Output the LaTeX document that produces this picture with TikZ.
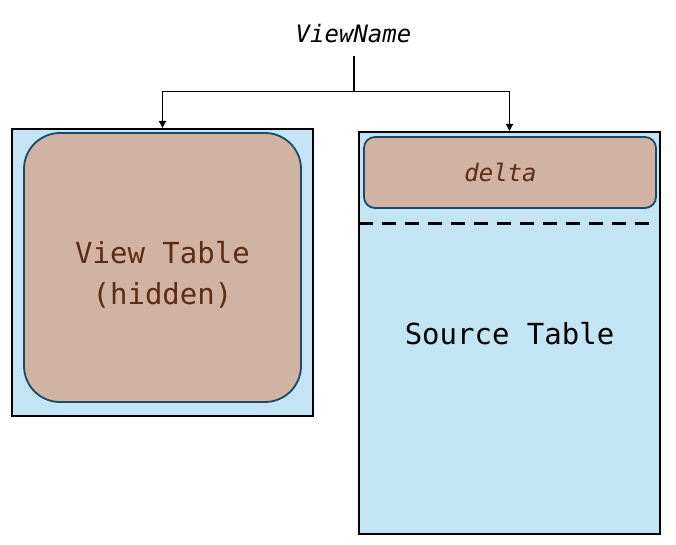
\documentclass[tikz,border=0pt]{standalone}
\usepackage{fontspec}
\setmonofont{DejaVu Sans Mono}
\usetikzlibrary{arrows.meta}
\definecolor{boxblue}{HTML}{C2E4F4}
\definecolor{boxbrown}{HTML}{D0B3A2}
\definecolor{edgeteal}{HTML}{1B4A63}
\definecolor{txtbrown}{HTML}{5C2C14}
\tikzset{
  outerbox/.style={draw=black, line width=2.1pt, fill=boxblue},
  innerbox/.style={draw=edgeteal, line width=1.8pt, fill=boxbrown},
  conn/.style={draw=black, line width=1.8pt, -{Triangle[width=7pt,length=7pt]}},
  mono/.style={font=\ttfamily\fontsize{29}{41}\selectfont, align=center},
  monoit/.style={font=\ttfamily\itshape\fontsize{24}{28}\selectfont}
}
\begin{document}
\begin{tikzpicture}[x=1pt,y=-1pt]
\useasboundingbox (0,0) rectangle (676,545);
% left
\node[outerbox, minimum width=301pt, minimum height=287pt, inner sep=0pt] (left) at (162.5,272.5) {};
\node[innerbox, rounded corners=36pt, minimum width=277pt, minimum height=269pt, inner sep=0pt] (view) at (162.5,267.5) {};
\node[mono, text=txtbrown] (viewtxt) at (162.5,275) {View Table\\(hidden)};
% right
\node[outerbox, minimum width=301pt, minimum height=402pt, inner sep=0pt] (right) at (509.5,333) {};
\node[innerbox, rounded corners=11pt, minimum width=292pt, minimum height=71pt, inner sep=0pt] (delta) at (510,172.5) {};
\node[monoit, text=txtbrown] (deltatxt) at (500.5,172) {delta};
\coordinate (dl) at (359,223);
\coordinate (dr) at (657,223);
\draw[black, line width=3pt, dash pattern=on 14pt off 9pt] (dl) -- (dr);
\node[mono] (src) at (509.5,334) {Source Table};
% title
\node[monoit] (vn) at (353.5,34) {ViewName};
\coordinate (stem) at (354,56);
\coordinate (jn) at (354,91.5);
\draw[conn] (stem) -- (jn) -| (left.north);
\draw[conn] (jn) -| ([xshift=0pt]right.north);
\end{tikzpicture}
\end{document}
